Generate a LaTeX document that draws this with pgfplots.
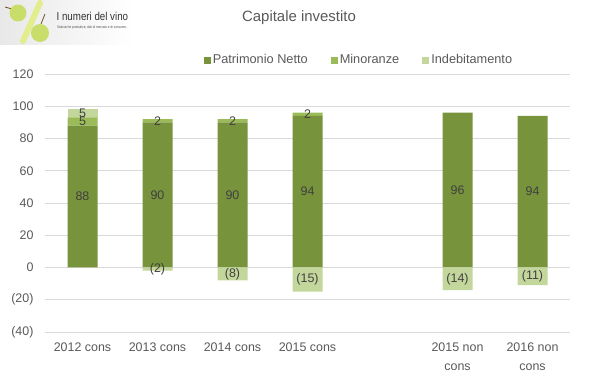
\documentclass[border=0pt]{standalone}
\usepackage{pgfplots}
\usepackage{pgfplotstable}
\pgfplotsset{compat=1.18}
\usepackage{fontspec}
\setmainfont{Liberation Sans}
\definecolor{pn}{HTML}{77933C}
\definecolor{mi}{HTML}{9BBB59}
\definecolor{ind}{HTML}{C3D69B}
\definecolor{lbl}{HTML}{404040}
\definecolor{tck}{HTML}{595959}
\definecolor{grd}{HTML}{D9D9D9}
\definecolor{grape}{HTML}{C9DE6A}
\definecolor{slash}{HTML}{E2EE8E}

\pgfplotstableread{
x pn pnl mi mil ip ipl
0 88 88 5 5 5 5
1 90 90 2 2 0 {}
2 90 90 2 2 0 {}
3 94 94 2 2 0 {}
5 96 96 0 {} 0 {}
6 94 94 0 {} 0 {}
}\capdata

\pgfplotstableread{
x v l
1 -2 (2)
2 -8 (8)
3 -15 (15)
5 -14 (14)
6 -11 (11)
}\negdata

\pgfplotsset{
  common/.style={
    at={(45bp,46bp)}, anchor=south west,
    scale only axis, width=525bp, height=258bp,
    xmin=-0.5, xmax=6.5, ymin=-40, ymax=120,
    bar width=30bp,
    /pgf/number format/assume math mode=true,
  },
  sq legend/.style={legend image code/.code={\fill[##1] (0bp,-3.5bp) rectangle (7bp,3.5bp);}},
  lab/.style={
    nodes near coords,
    point meta=explicit symbolic,
    every node near coord/.style={anchor=center, text=lbl, font=\fontsize{12.5}{14}\selectfont,
      yshift=-#1*\val*1bp},
  },
}

\begin{document}
\begin{tikzpicture}
\useasboundingbox (0bp,0bp) rectangle (599bp,378bp);
\begin{scope}[x=1bp,y=1bp]
% logo
\shade[left color=gray!18, right color=white] (0,333) rectangle (135,378);
\draw[line width=6bp, color=slash, line cap=round] (40,375) -- (23,337);
\draw[color=brown!60!black, line width=0.8bp] (12,369) -- (5,371);
\fill[color=grape] (18,365) circle (8.5);
\draw[color=brown!60!black, line width=0.8bp] (41,354) -- (45,364);
\fill[color=grape] (40,345) circle (9);
\node[anchor=west, inner sep=0pt, text=black!80, xscale=0.85] at (56.5,362) {\fontsize{11.5}{13}\selectfont I numeri del vino};
\node[anchor=west, inner sep=0pt, text=black!70, xscale=0.85] at (57,350) {\fontsize{3.6}{4}\selectfont Statistiche produttive, dati di mercato e di consumo.};
% title
\node[text=tck] at (299,360) {\fontsize{15}{18}\selectfont Capitale investito};
\end{scope}

\begin{axis}[
  common,
  ybar stacked,
  axis line style={draw=none},
  major tick length=0pt,
  ymajorgrids, grid style={grd, line width=0.8bp},
  ytick={-40,-20,0,20,40,60,80,100,120},
  yticklabels={(40),(20),0,20,40,60,80,100,120},
  xtick={0,1,2,3,5,6},
  xticklabels={2012 cons,2013 cons,2014 cons,2015 cons,{2015 non\\cons},{2016 non\\cons}},
  tick label style={text=tck, font=\fontsize{12.5}{15}\selectfont},
  xticklabel style={align=center, yshift=-7bp, font=\fontsize{12.5}{19}\selectfont},
  yticklabel style={xshift=-8bp},
  legend style={at={(0.598,1.054)}, anchor=center, draw=none, fill=none,
    legend columns=-1, font=\fontsize{12.8}{14}\selectfont, text=tck,
    /tikz/every even column/.append style={column sep=21bp}},
]
\addplot[fill=pn, draw=none, sq legend, lab=0, visualization depends on={\thisrow{pn} \as \val}]
  table[x=x, y=pn, meta=pnl] {\capdata};
\addlegendentry{Patrimonio Netto}
\addplot[fill=mi, draw=none, sq legend, lab=0, visualization depends on={\thisrow{mi} \as \val}]
  table[x=x, y=mi, meta=mil] {\capdata};
\addlegendentry{Minoranze}
\addplot[fill=ind, draw=none, sq legend, lab=0, visualization depends on={\thisrow{ip} \as \val}]
  table[x=x, y=ip, meta=ipl] {\capdata};
\addlegendentry{Indebitamento}
\end{axis}

\begin{axis}[
  common,
  ybar, hide axis,
]
\addplot[fill=ind, draw=none, bar shift=0pt, lab=0.80625, visualization depends on={\thisrow{v} \as \val}]
  table[x=x, y=v, meta=l] {\negdata};
\end{axis}
\end{tikzpicture}
\end{document}
